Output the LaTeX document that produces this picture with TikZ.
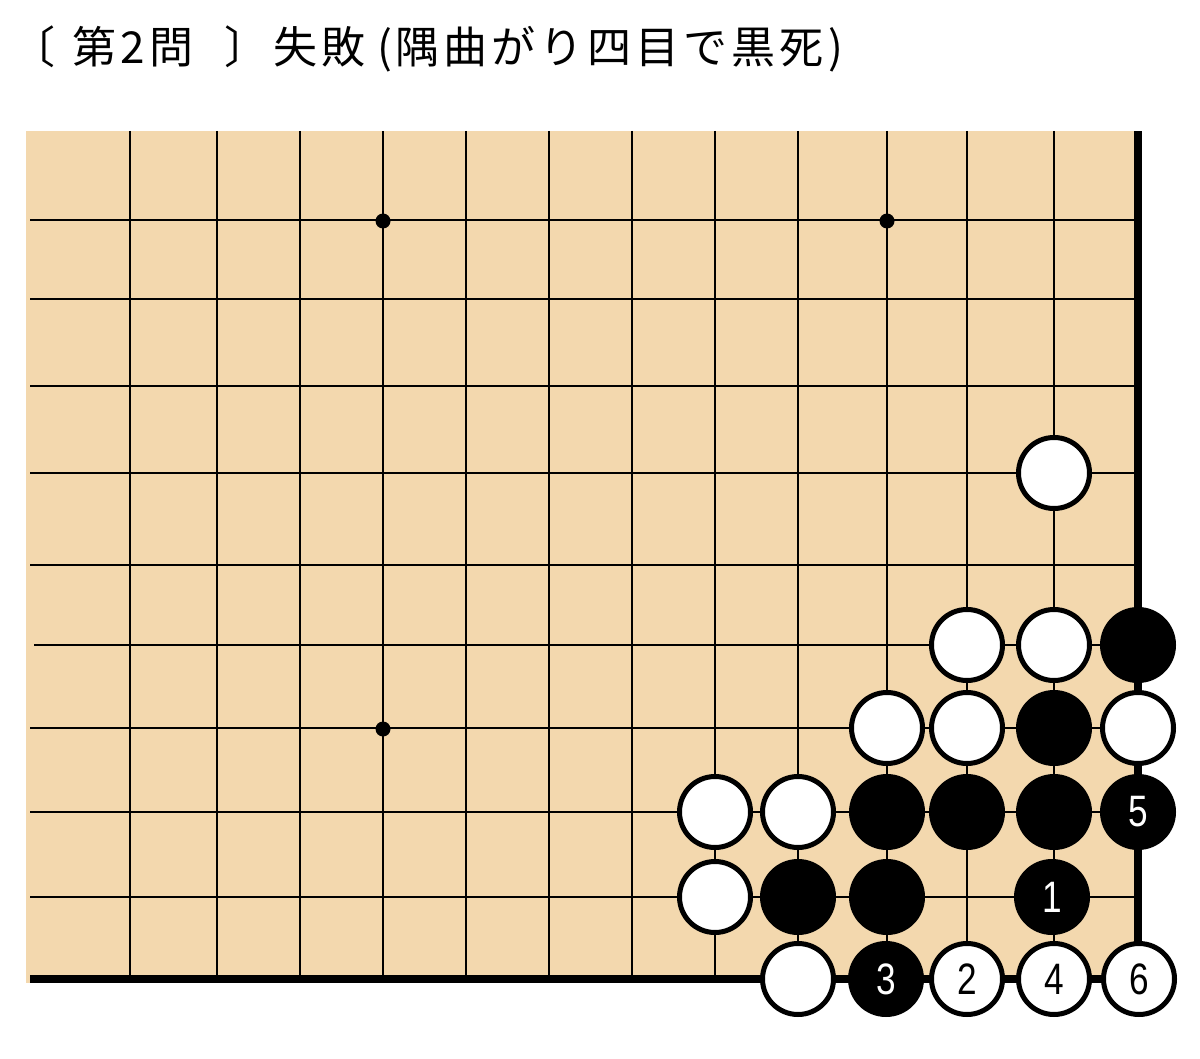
\documentclass[tikz,border=0pt]{standalone}
\usepackage{fontspec}
\usepackage{graphicx}
\newfontfamily\jpfont[LetterSpace=9]{Noto Sans CJK JP}
\newfontfamily\numfont{Liberation Sans}
\definecolor{board}{RGB}{243,216,174}
\newcommand{\stonenum}[1]{{\numfont\fontsize{44}{44}\selectfont\scalebox{0.8}[1]{#1}}}
\begin{document}
\begin{tikzpicture}[x=1pt,y=-1pt,
  gridline/.style={line width=2.5pt,black},
  edgeline/.style={line width=8pt,black,line join=miter},
  starpt/.style={circle,fill=black,minimum size=15pt,inner sep=0pt},
  wstone/.style={circle,draw=black,fill=white,line width=5pt,minimum size=71pt,inner sep=0pt,text=black},
  bstone/.style={circle,draw=black,fill=black,line width=5pt,minimum size=71pt,inner sep=0pt,text=white},
  titlestyle/.style={anchor=base west,inner sep=0pt,font=\jpfont\fontsize{44}{44}\selectfont}]
\useasboundingbox (0,0) rectangle (1200,1059);
% title
\node[titlestyle] (title) at (11,64) {〔 \kern4pt第2問 \kern17pt〕 \kern-8pt失敗\kern12pt(\kern3pt隅曲がり四目で黒死\kern5pt)};
% board
\fill[board] (26,131) rectangle (1142,983);
\foreach \x in {130,217,300,383,466,549,632,715,798,887,967,1054}
  \draw[gridline] (\x,131) -- (\x,979);
\foreach \y in {220,299,386,473,565,728,812,897}
  \draw[gridline] (30,\y) -- (1138,\y);
\draw[gridline] (34,645) -- (1138,645);
\draw[edgeline] (30,979) -- (1138,979) -- (1138,131);
% star points
\node[starpt] (s1) at (383,221) {};
\node[starpt] (s2) at (887,221) {};
\node[starpt] (s3) at (383,729) {};
% stones
\node[wstone] (w1) at (1054,473) {};
\node[wstone] (w2) at (967,645) {};
\node[wstone] (w3) at (1054,645) {};
\node[bstone] (b1) at (1138,645) {};
\node[wstone] (w4) at (887,728) {};
\node[wstone] (w5) at (967,728) {};
\node[bstone] (b2) at (1054,728) {};
\node[wstone] (w6) at (1138,728) {};
\node[wstone] (w7) at (715,812) {};
\node[wstone] (w8) at (798,812) {};
\node[bstone] (b3) at (887,812) {};
\node[bstone] (b4) at (967,812) {};
\node[bstone] (b5) at (1054,812) {};
\node[bstone] (m5) at (1138,812) {\stonenum{5}};
\node[wstone] (w9) at (715,897) {};
\node[bstone] (b6) at (798,897) {};
\node[bstone] (b7) at (887,897) {};
\node[bstone] (m1) at (1052,897) {\stonenum{1}};
\node[wstone] (w10) at (798,979) {};
\node[bstone] (m3) at (886,979) {\stonenum{3}};
\node[wstone] (m2) at (967,979) {\stonenum{2}};
\node[wstone] (m4) at (1054,979) {\stonenum{4}};
\node[wstone] (m6) at (1139,979) {\stonenum{6}};
\end{tikzpicture}
\end{document}
